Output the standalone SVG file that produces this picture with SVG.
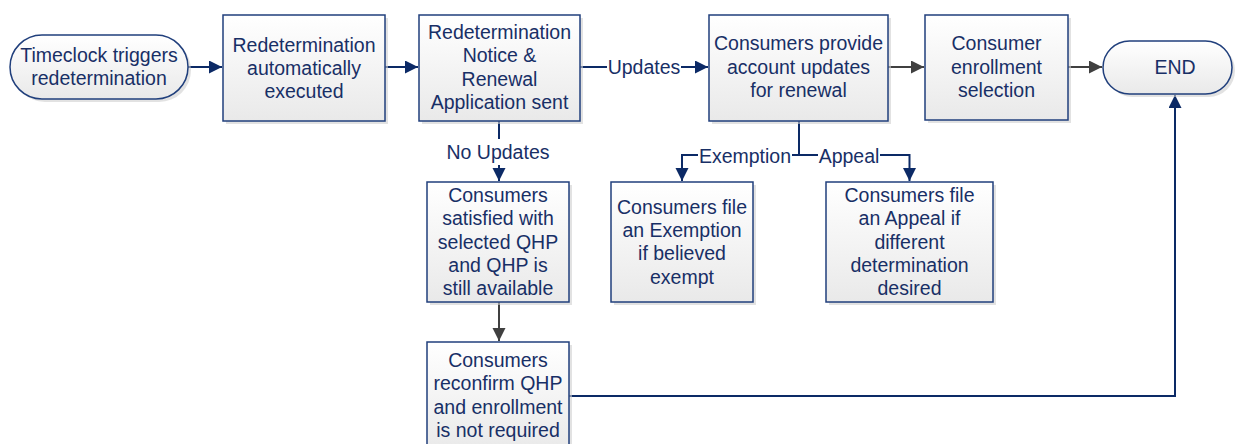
<svg xmlns="http://www.w3.org/2000/svg" width="1235" height="444" viewBox="0 0 1235 444">
  <style>
    .box { fill: url(#boxFill); stroke: #203F7C; stroke-width: 1.5; }
    .shadow { fill: #CFCFCF; opacity: 0.6; }
    .lbl { font-family: "Liberation Sans", Arial, sans-serif; font-size: 19.5px; fill: #182F66; text-anchor: middle; }
    .nav { fill: none; stroke: #0C2A66; stroke-width: 2; }
    .gry { fill: none; stroke: #404040; stroke-width: 2; }
  </style>
  <defs>
    <linearGradient id="boxFill" x1="0" y1="0" x2="0" y2="1">
      <stop offset="0" stop-color="#FFFFFF"/>
      <stop offset="1" stop-color="#E9E9E9"/>
    </linearGradient>
    <marker id="headNavy" markerUnits="userSpaceOnUse" markerWidth="14" markerHeight="14" refX="13" refY="6.5" orient="auto">
      <path d="M0,0 L13,6.5 L0,13 Z" fill="#0C2A66"/>
    </marker>
    <marker id="headGray" markerUnits="userSpaceOnUse" markerWidth="14" markerHeight="14" refX="13" refY="6.5" orient="auto">
      <path d="M0,0 L13,6.5 L0,13 Z" fill="#404040"/>
    </marker>
  </defs>

  <!-- connectors -->
  <g id="connectors">
    <path class="nav" d="M188,67 H222" marker-end="url(#headNavy)"/>
    <path class="nav" d="M385,67 H418" marker-end="url(#headNavy)"/>
    <path class="nav" d="M580,67 H607"/>
    <path class="nav" d="M681,67 H708" marker-end="url(#headNavy)"/>
    <text class="lbl" x="644" y="74">Updates</text>
    <path class="gry" d="M888,67 H924" marker-end="url(#headGray)"/>
    <path class="gry" d="M1068,67 H1102" marker-end="url(#headGray)"/>
    <path class="nav" d="M499,121 V139"/>
    <path class="nav" d="M499,165 V181" marker-end="url(#headNavy)"/>
    <text class="lbl" x="498" y="159">No Updates</text>
    <path class="nav" d="M799,121 V155 H792"/>
    <path class="nav" d="M698,155 H682 V181" marker-end="url(#headNavy)"/>
    <text class="lbl" x="745" y="163">Exemption</text>
    <path class="nav" d="M799,155 H818"/>
    <path class="nav" d="M880,155 H909.5 V181" marker-end="url(#headNavy)"/>
    <text class="lbl" x="849" y="163">Appeal</text>
    <path class="gry" d="M499,302 V341" marker-end="url(#headGray)"/>
    <path class="nav" d="M569,396 H1175 V95" marker-end="url(#headNavy)"/>
  </g>

  <g id="start">
    <rect class="shadow" x="13" y="38" width="178" height="64" rx="32"/>
    <rect class="box" x="10" y="35" width="178" height="64" rx="32"/>
    <text class="lbl" x="99" y="62">Timeclock triggers</text>
    <text class="lbl" x="99" y="85">redetermination</text>
  </g>

  <g id="auto-redetermination">
    <rect class="shadow" x="226" y="18" width="162" height="106"/>
    <rect class="box" x="223" y="15" width="162" height="106"/>
    <text class="lbl" x="304" y="52">Redetermination</text>
    <text class="lbl" x="304" y="75">automatically</text>
    <text class="lbl" x="304" y="98">executed</text>
  </g>

  <g id="notice-sent">
    <rect class="shadow" x="422" y="18" width="161" height="106"/>
    <rect class="box" x="419" y="15" width="161" height="106"/>
    <text class="lbl" x="499.5" y="39">Redetermination</text>
    <text class="lbl" x="499.5" y="62">Notice &amp;</text>
    <text class="lbl" x="499.5" y="86">Renewal</text>
    <text class="lbl" x="499.5" y="109">Application sent</text>
  </g>

  <g id="account-updates">
    <rect class="shadow" x="712" y="18" width="179" height="106"/>
    <rect class="box" x="709" y="15" width="179" height="106"/>
    <text class="lbl" x="798.5" y="50">Consumers provide</text>
    <text class="lbl" x="798.5" y="74">account updates</text>
    <text class="lbl" x="798.5" y="97">for renewal</text>
  </g>

  <g id="enrollment-selection">
    <rect class="shadow" x="928" y="18" width="143" height="105"/>
    <rect class="box" x="925" y="15" width="143" height="105"/>
    <text class="lbl" x="996.5" y="50">Consumer</text>
    <text class="lbl" x="996.5" y="74">enrollment</text>
    <text class="lbl" x="996.5" y="97">selection</text>
  </g>

  <g id="end">
    <rect class="shadow" x="1106" y="44" width="129" height="53" rx="26.5"/>
    <rect class="box" x="1103" y="41" width="129" height="53" rx="26.5"/>
    <text class="lbl" x="1175" y="74">END</text>
  </g>

  <g id="qhp-satisfied">
    <rect class="shadow" x="430" y="185" width="142" height="120"/>
    <rect class="box" x="427" y="182" width="142" height="120"/>
    <text class="lbl" x="498" y="202">Consumers</text>
    <text class="lbl" x="498" y="225">satisfied with</text>
    <text class="lbl" x="498" y="249">selected QHP</text>
    <text class="lbl" x="498" y="272">and QHP is</text>
    <text class="lbl" x="498" y="295">still available</text>
  </g>

  <g id="file-exemption">
    <rect class="shadow" x="614" y="185" width="142" height="120"/>
    <rect class="box" x="611" y="182" width="142" height="120"/>
    <text class="lbl" x="682" y="214">Consumers file</text>
    <text class="lbl" x="682" y="237">an Exemption</text>
    <text class="lbl" x="682" y="260">if believed</text>
    <text class="lbl" x="682" y="284">exempt</text>
  </g>

  <g id="file-appeal">
    <rect class="shadow" x="829" y="185" width="167" height="120"/>
    <rect class="box" x="826" y="182" width="167" height="120"/>
    <text class="lbl" x="909.5" y="202">Consumers file</text>
    <text class="lbl" x="909.5" y="225">an Appeal if</text>
    <text class="lbl" x="909.5" y="249">different</text>
    <text class="lbl" x="909.5" y="272">determination</text>
    <text class="lbl" x="909.5" y="295">desired</text>
  </g>

  <g id="reconfirm-not-required">
    <rect class="shadow" x="430" y="345" width="142" height="110"/>
    <rect class="box" x="427" y="342" width="142" height="110"/>
    <text class="lbl" x="498" y="367">Consumers</text>
    <text class="lbl" x="498" y="390">reconfirm QHP</text>
    <text class="lbl" x="498" y="414">and enrollment</text>
    <text class="lbl" x="498" y="437">is not required</text>
  </g>
</svg>
